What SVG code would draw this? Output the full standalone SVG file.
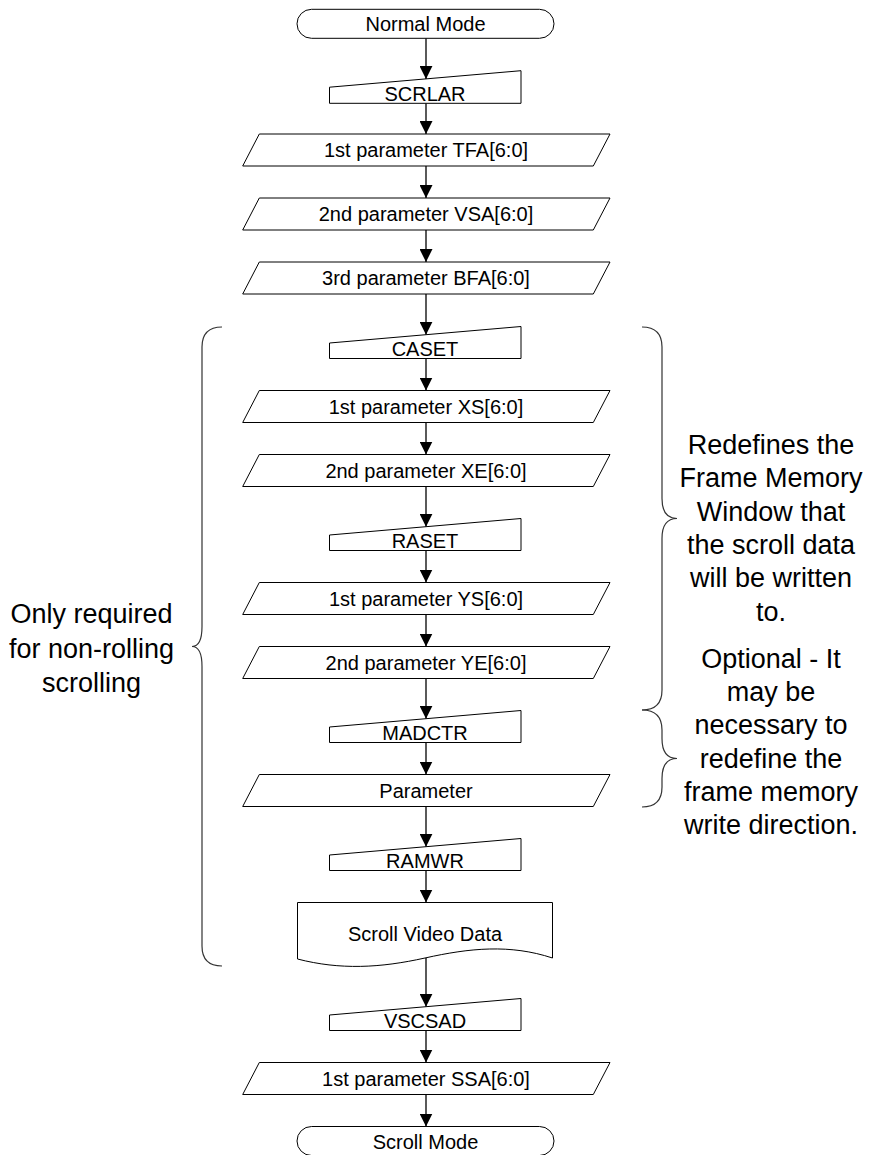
<svg xmlns="http://www.w3.org/2000/svg" width="871" height="1155" viewBox="0 0 871 1155">
<style>
.s{fill:#fff;stroke:#000;stroke-width:1}
.t{font-family:"Liberation Sans",Arial,sans-serif;font-size:20px;fill:#000;text-anchor:middle}
.a{font-family:"Liberation Sans",Arial,sans-serif;font-size:27px;fill:#000;text-anchor:middle}
.c{fill:none;stroke:#000;stroke-width:1.3}
.b{fill:none;stroke:#333;stroke-width:1.2}
</style>
<defs>
<marker id="ah" markerUnits="userSpaceOnUse" markerWidth="13" markerHeight="13" refX="13" refY="6.5" orient="auto">
<path d="M0,0 L13,6.5 L0,13 Z" fill="#000"/>
</marker>
</defs>
<rect width="871" height="1155" fill="#fff"/>
<g id="connectors">
<line class="c" x1="426" y1="38.3" x2="426" y2="78.9" marker-end="url(#ah)"/>
<line class="c" x1="426" y1="103.3" x2="426" y2="134" marker-end="url(#ah)"/>
<line class="c" x1="426" y1="166" x2="426" y2="198" marker-end="url(#ah)"/>
<line class="c" x1="426" y1="230" x2="426" y2="262" marker-end="url(#ah)"/>
<line class="c" x1="426" y1="294" x2="426" y2="334.7" marker-end="url(#ah)"/>
<line class="c" x1="426" y1="358.5" x2="426" y2="390.5" marker-end="url(#ah)"/>
<line class="c" x1="426" y1="422.5" x2="426" y2="454.5" marker-end="url(#ah)"/>
<line class="c" x1="426" y1="486.5" x2="426" y2="526.7" marker-end="url(#ah)"/>
<line class="c" x1="426" y1="550.5" x2="426" y2="582.5" marker-end="url(#ah)"/>
<line class="c" x1="426" y1="614.5" x2="426" y2="646.5" marker-end="url(#ah)"/>
<line class="c" x1="426" y1="678.5" x2="426" y2="718.7" marker-end="url(#ah)"/>
<line class="c" x1="426" y1="742.5" x2="426" y2="774.5" marker-end="url(#ah)"/>
<line class="c" x1="426" y1="806.5" x2="426" y2="846.7" marker-end="url(#ah)"/>
<line class="c" x1="426" y1="870.5" x2="426" y2="902.5" marker-end="url(#ah)"/>
<line class="c" x1="426" y1="958" x2="426" y2="1006.7" marker-end="url(#ah)"/>
<line class="c" x1="426" y1="1030.5" x2="426" y2="1062.5" marker-end="url(#ah)"/>
<line class="c" x1="426" y1="1094.5" x2="426" y2="1126.5" marker-end="url(#ah)"/>
</g>
<g id="normal-mode">
<rect class="s" x="297" y="9.3" width="257" height="29" rx="14.5" ry="14.5"/>
<text class="t" x="425.5" y="31">Normal Mode</text>
</g>
<g id="scrlar">
<path class="s" d="M329.5,87.2 L521,70.7 L521,103.3 L329.5,103.3 Z"/>
<text class="t" x="425" y="100.7">SCRLAR</text>
</g>
<g id="tfa">
<path class="s" d="M259.3,134 L610,134 L593.3,166 L242.7,166 Z"/>
<text class="t" x="426" y="157.3">1st parameter TFA[6:0]</text>
</g>
<g id="vsa">
<path class="s" d="M259.3,198 L610,198 L593.3,230 L242.7,230 Z"/>
<text class="t" x="426" y="221.3">2nd parameter VSA[6:0]</text>
</g>
<g id="bfa">
<path class="s" d="M259.3,262 L610,262 L593.3,294 L242.7,294 Z"/>
<text class="t" x="426" y="285.3">3rd parameter BFA[6:0]</text>
</g>
<g id="caset">
<path class="s" d="M329.5,343 L521,326.5 L521,358.5 L329.5,358.5 Z"/>
<text class="t" x="425" y="356">CASET</text>
</g>
<g id="xs">
<path class="s" d="M259.3,390.5 L610,390.5 L593.3,422.5 L242.7,422.5 Z"/>
<text class="t" x="426" y="413.8">1st parameter XS[6:0]</text>
</g>
<g id="xe">
<path class="s" d="M259.3,454.5 L610,454.5 L593.3,486.5 L242.7,486.5 Z"/>
<text class="t" x="426" y="477.8">2nd parameter XE[6:0]</text>
</g>
<g id="raset">
<path class="s" d="M329.5,535 L521,518.5 L521,550.5 L329.5,550.5 Z"/>
<text class="t" x="425" y="548">RASET</text>
</g>
<g id="ys">
<path class="s" d="M259.3,582.5 L610,582.5 L593.3,614.5 L242.7,614.5 Z"/>
<text class="t" x="426" y="605.8">1st parameter YS[6:0]</text>
</g>
<g id="ye">
<path class="s" d="M259.3,646.5 L610,646.5 L593.3,678.5 L242.7,678.5 Z"/>
<text class="t" x="426" y="669.8">2nd parameter YE[6:0]</text>
</g>
<g id="madctr">
<path class="s" d="M329.5,727 L521,710.5 L521,742.5 L329.5,742.5 Z"/>
<text class="t" x="425" y="740">MADCTR</text>
</g>
<g id="parameter">
<path class="s" d="M259.3,774.5 L610,774.5 L593.3,806.5 L242.7,806.5 Z"/>
<text class="t" x="426" y="797.8">Parameter</text>
</g>
<g id="ramwr">
<path class="s" d="M329.5,855 L521,838.5 L521,870.5 L329.5,870.5 Z"/>
<text class="t" x="425" y="868">RAMWR</text>
</g>
<g id="scroll-video-data">
<path class="s" d="M297.5,902.5 L552.5,902.5 L552.5,958 C510,944 470,948 425,958 C380,968 340,970 297.5,959 Z"/>
<text class="t" x="425" y="940.7">Scroll Video Data</text>
</g>
<g id="vscsad">
<path class="s" d="M329.5,1015 L521,998.5 L521,1030.5 L329.5,1030.5 Z"/>
<text class="t" x="425" y="1028">VSCSAD</text>
</g>
<g id="ssa">
<path class="s" d="M259.3,1062.5 L610,1062.5 L593.3,1094.5 L242.7,1094.5 Z"/>
<text class="t" x="426" y="1085.8">1st parameter SSA[6:0]</text>
</g>
<g id="scroll-mode">
<rect class="s" x="297" y="1126.5" width="257" height="29" rx="14.5" ry="14.5"/>
<text class="t" x="425.5" y="1148.5">Scroll Mode</text>
</g>
<g id="brace-left">
<path class="b" d="M222,327 Q202,327 202,347 L202,626.5 Q202,646.5 192,646.5 Q202,646.5 202,666.5 L202,946 Q202,966 222,966"/>
<text class="a" x="91.5" y="623.3">Only required</text>
<text class="a" x="91.5" y="658">for non-rolling</text>
<text class="a" x="91.5" y="691.7">scrolling</text>
</g>
<g id="brace-right-1">
<path class="b" d="M642,327 Q662,327 662,347 L662,498.5 Q662,518.5 677,518.5 Q662,518.5 662,538.5 L662,690 Q662,710 642,710"/>
<text class="a" x="771" y="454">Redefines the</text>
<text class="a" x="771" y="487.3">Frame Memory</text>
<text class="a" x="771" y="520.7">Window that</text>
<text class="a" x="771" y="554">the scroll data</text>
<text class="a" x="771" y="587.3">will be written</text>
<text class="a" x="771" y="620.7">to.</text>
</g>
<g id="brace-right-2">
<path class="b" d="M642,710 Q662,710 662,730 L662,738.5 Q662,758.5 677,758.5 Q662,758.5 662,778.5 L662,787 Q662,807 642,807"/>
<text class="a" x="771" y="667.7">Optional - It</text>
<text class="a" x="771" y="701">may be</text>
<text class="a" x="771" y="734.3">necessary to</text>
<text class="a" x="771" y="767.7">redefine the</text>
<text class="a" x="771" y="801">frame memory</text>
<text class="a" x="771" y="834.3">write direction.</text>
</g>
</svg>
